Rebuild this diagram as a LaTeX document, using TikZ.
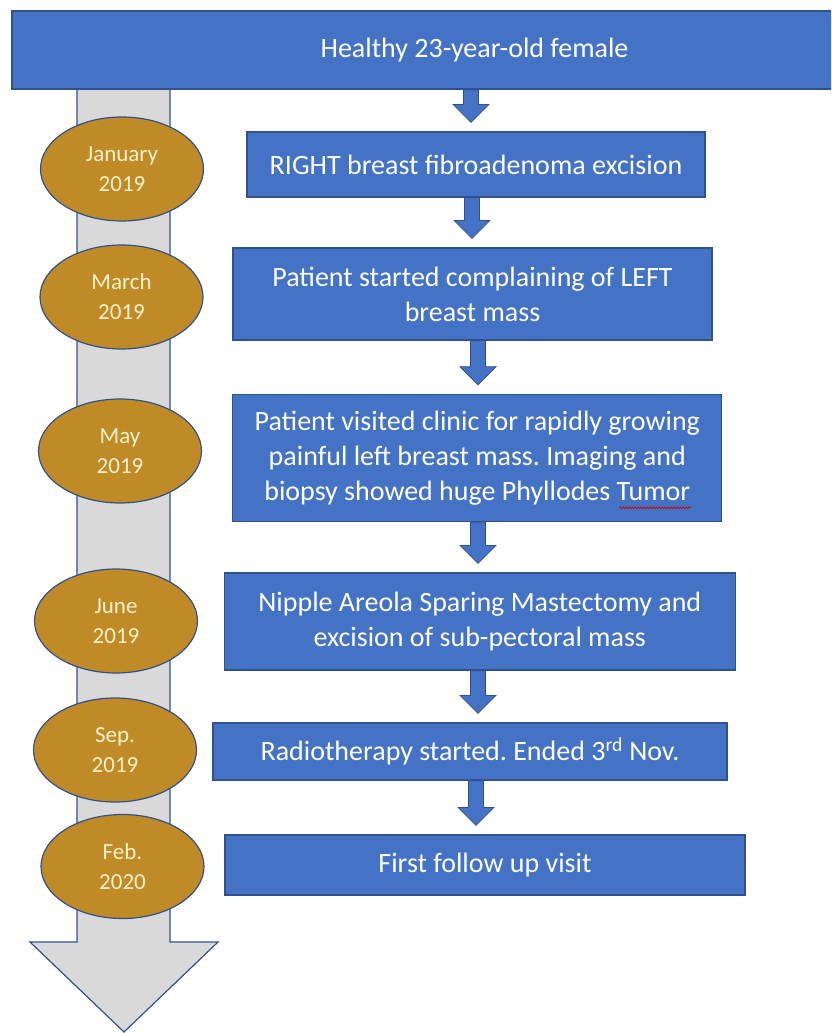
\documentclass[tikz,border=0pt]{standalone}
\usepackage{fontspec}
\setmainfont{Carlito}
\usepackage{xcolor}
\usetikzlibrary{shapes.geometric,calc,decorations.pathmorphing}
\definecolor{boxblue}{HTML}{4472C4}
\definecolor{edgeblue}{HTML}{2F528F}
\definecolor{dategold}{HTML}{C08B26}
\definecolor{datetext}{HTML}{FFF2CC}
\definecolor{timegray}{HTML}{D9D9D9}
\frenchspacing
\tikzset{
  eventbox/.style={draw=edgeblue, fill=boxblue, line width=1.2pt, text=white,
                   align=center, inner sep=2pt, font=\fontsize{28}{35}\selectfont},
  datenode/.style={ellipse, draw=edgeblue, fill=dategold, line width=1.2pt,
                   minimum width=163, minimum height=104, inner sep=0pt,
                   text=datetext, align=center, font=\fontsize{23}{30}\selectfont},
  fatarrow/.style={draw=edgeblue, fill=boxblue, line width=0.8pt},
  timeline/.style={draw=edgeblue, fill=timegray, line width=1.2pt},
  spellmark/.style={red!80!black, line width=0.7pt,
                    decorate, decoration={snake, amplitude=0.9pt, segment length=3pt}}
}
% block arrow from #1 down to #2, shaft centred at x=#3
\newcommand\stepdown[3]{%
  \filldraw[fatarrow] let \p1=(#1.south), \p2=(#2.north) in
    (#3pt-7.5pt,\y1) -- (#3pt+7.5pt,\y1) -- (#3pt+7.5pt,\y2+27pt) -- (#3pt+18pt,\y2+27pt)
    -- (#3pt,\y2+9pt) -- (#3pt-18pt,\y2+27pt) -- (#3pt-7.5pt,\y2+27pt) -- cycle;}

\begin{document}
\begin{tikzpicture}[x=1pt,y=-1pt]
    \clip (0,0) rectangle (831,1033);

    % Time line behind the dates
    \filldraw[timeline] (77,80) -- (170,80) -- (170,942) -- (218,942)
      -- (124,1032) -- (30,942) -- (77,942) -- cycle;

    % Events
    \node[eventbox, minimum width=925, minimum height=78] (H) at (474.5,50) {Healthy 23-year-old female};
    \node[eventbox, minimum width=458, minimum height=65] (RB) at (476,164.5) {RIGHT breast fibroadenoma excision};
    \node[eventbox, minimum width=479, minimum height=92] (PS) at (472.5,294)
      {Patient started complaining of LEFT\\breast mass};
    \node[eventbox, minimum width=489, minimum height=127] (PV) at (477.3,457.8)
      {Patient visited clinic for rapidly growing\\painful left breast mass. Imaging and\\biopsy showed huge Phyllodes Tumor};
    \node[eventbox, minimum width=511, minimum height=97] (NP) at (479.8,621.5)
      {Nipple Areola Sparing Mastectomy and\\excision of sub-pectoral mass};
    \node[eventbox, minimum width=514, minimum height=57] (RT) at (470,751.5)
      {Radiotherapy started. Ended 3\textsuperscript{rd} Nov.};
    \node[eventbox, minimum width=520, minimum height=60] (FF) at (485,865) {First follow up visit};

    % spell-check mark under "Tumor"
    \draw[spellmark] ($(PV.center)+(142,50)$) -- ++(72,0);

    % Dates
    \node[datenode] (jan) at (122,169) {January\\2019};
    \node[datenode] (mar) at (121.5,297) {March\\2019};
    \node[datenode] (may) at (120,451) {May\\2019};
    \node[datenode] (jun) at (116,621) {June\\2019};
    \node[datenode] (sep) at (115,750) {Sep.\\2019};
    \node[datenode] (feb) at (122.5,866.5) {Feb.\\2020};

    % Steps
    \stepdown{H}{RB}{471}
    \stepdown{RB}{PS}{472}
    \stepdown{PS}{PV}{478}
    \stepdown{PV}{NP}{478}
    \stepdown{NP}{RT}{478}
    \stepdown{RT}{FF}{476}
\end{tikzpicture}
\end{document}
